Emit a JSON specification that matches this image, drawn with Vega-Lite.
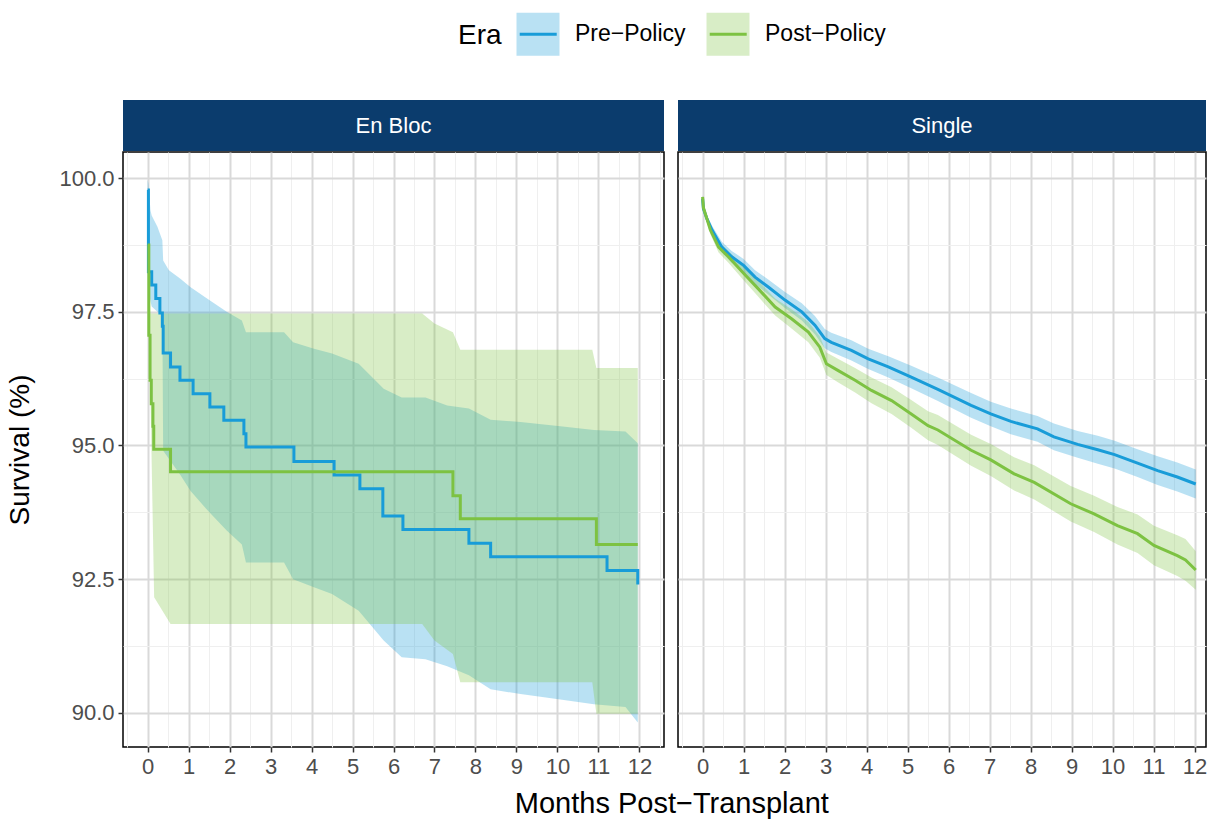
{
  "$schema": "https://vega.github.io/schema/vega-lite/v6.json",
  "usermeta": {"embedOptions": {"actions": false}},
  "padding": {"left": 6, "top": 11, "right": 0, "bottom": 3},
  "background": "white",
  "datasets": {
    "strips": [{"panel": "En Bloc"}, {"panel": "Single"}],
    "lines": [
      {"panel": "En Bloc", "era": "Pre−Policy", "t": 0, "s": 99.78},
      {"panel": "En Bloc", "era": "Pre−Policy", "t": 0.02, "s": 98.25},
      {"panel": "En Bloc", "era": "Pre−Policy", "t": 0.1, "s": 98.0},
      {"panel": "En Bloc", "era": "Pre−Policy", "t": 0.2, "s": 97.75},
      {"panel": "En Bloc", "era": "Pre−Policy", "t": 0.3, "s": 97.48},
      {"panel": "En Bloc", "era": "Pre−Policy", "t": 0.36, "s": 97.23},
      {"panel": "En Bloc", "era": "Pre−Policy", "t": 0.38, "s": 96.73},
      {"panel": "En Bloc", "era": "Pre−Policy", "t": 0.56, "s": 96.47},
      {"panel": "En Bloc", "era": "Pre−Policy", "t": 0.79, "s": 96.22},
      {"panel": "En Bloc", "era": "Pre−Policy", "t": 1.11, "s": 95.97},
      {"panel": "En Bloc", "era": "Pre−Policy", "t": 1.52, "s": 95.72},
      {"panel": "En Bloc", "era": "Pre−Policy", "t": 1.86, "s": 95.47},
      {"panel": "En Bloc", "era": "Pre−Policy", "t": 2.35, "s": 95.22},
      {"panel": "En Bloc", "era": "Pre−Policy", "t": 2.4, "s": 94.97},
      {"panel": "En Bloc", "era": "Pre−Policy", "t": 3.57, "s": 94.7},
      {"panel": "En Bloc", "era": "Pre−Policy", "t": 4.55, "s": 94.45},
      {"panel": "En Bloc", "era": "Pre−Policy", "t": 5.18, "s": 94.19},
      {"panel": "En Bloc", "era": "Pre−Policy", "t": 5.74, "s": 93.68},
      {"panel": "En Bloc", "era": "Pre−Policy", "t": 6.23, "s": 93.43},
      {"panel": "En Bloc", "era": "Pre−Policy", "t": 7.84, "s": 93.17},
      {"panel": "En Bloc", "era": "Pre−Policy", "t": 8.37, "s": 92.92},
      {"panel": "En Bloc", "era": "Pre−Policy", "t": 11.21, "s": 92.66},
      {"panel": "En Bloc", "era": "Pre−Policy", "t": 11.96, "s": 92.4},
      {"panel": "En Bloc", "era": "Post−Policy", "t": 0, "s": 98.75},
      {"panel": "En Bloc", "era": "Post−Policy", "t": 0.03, "s": 97.06},
      {"panel": "En Bloc", "era": "Post−Policy", "t": 0.06, "s": 96.22},
      {"panel": "En Bloc", "era": "Post−Policy", "t": 0.09, "s": 95.78},
      {"panel": "En Bloc", "era": "Post−Policy", "t": 0.13, "s": 95.36},
      {"panel": "En Bloc", "era": "Post−Policy", "t": 0.15, "s": 94.93},
      {"panel": "En Bloc", "era": "Post−Policy", "t": 0.56, "s": 94.51},
      {"panel": "En Bloc", "era": "Post−Policy", "t": 7.45, "s": 94.06},
      {"panel": "En Bloc", "era": "Post−Policy", "t": 7.63, "s": 93.63},
      {"panel": "En Bloc", "era": "Post−Policy", "t": 10.95, "s": 93.15},
      {"panel": "En Bloc", "era": "Post−Policy", "t": 11.96, "s": 93.15},
      {"panel": "Single", "era": "Pre−Policy", "t": 0, "s": 99.62},
      {"panel": "Single", "era": "Pre−Policy", "t": 0.02, "s": 99.43},
      {"panel": "Single", "era": "Pre−Policy", "t": 0.1, "s": 99.25},
      {"panel": "Single", "era": "Pre−Policy", "t": 0.23, "s": 99.03},
      {"panel": "Single", "era": "Pre−Policy", "t": 0.47, "s": 98.71},
      {"panel": "Single", "era": "Pre−Policy", "t": 0.71, "s": 98.53},
      {"panel": "Single", "era": "Pre−Policy", "t": 1.0, "s": 98.37},
      {"panel": "Single", "era": "Pre−Policy", "t": 1.28, "s": 98.15},
      {"panel": "Single", "era": "Pre−Policy", "t": 1.61, "s": 97.96},
      {"panel": "Single", "era": "Pre−Policy", "t": 2.01, "s": 97.72},
      {"panel": "Single", "era": "Pre−Policy", "t": 2.42, "s": 97.5},
      {"panel": "Single", "era": "Pre−Policy", "t": 2.74, "s": 97.25},
      {"panel": "Single", "era": "Pre−Policy", "t": 2.98, "s": 97.0},
      {"panel": "Single", "era": "Pre−Policy", "t": 3.14, "s": 96.93},
      {"panel": "Single", "era": "Pre−Policy", "t": 3.63, "s": 96.78},
      {"panel": "Single", "era": "Pre−Policy", "t": 4.04, "s": 96.62},
      {"panel": "Single", "era": "Pre−Policy", "t": 4.53, "s": 96.47},
      {"panel": "Single", "era": "Pre−Policy", "t": 5.09, "s": 96.28},
      {"panel": "Single", "era": "Pre−Policy", "t": 5.74, "s": 96.05},
      {"panel": "Single", "era": "Pre−Policy", "t": 6.55, "s": 95.75},
      {"panel": "Single", "era": "Pre−Policy", "t": 7.03, "s": 95.59},
      {"panel": "Single", "era": "Pre−Policy", "t": 7.52, "s": 95.45},
      {"panel": "Single", "era": "Pre−Policy", "t": 8.17, "s": 95.31},
      {"panel": "Single", "era": "Pre−Policy", "t": 8.57, "s": 95.16},
      {"panel": "Single", "era": "Pre−Policy", "t": 9.15, "s": 95.02},
      {"panel": "Single", "era": "Pre−Policy", "t": 9.64, "s": 94.92},
      {"panel": "Single", "era": "Pre−Policy", "t": 10.05, "s": 94.83},
      {"panel": "Single", "era": "Pre−Policy", "t": 10.61, "s": 94.67},
      {"panel": "Single", "era": "Pre−Policy", "t": 11.1, "s": 94.53},
      {"panel": "Single", "era": "Pre−Policy", "t": 11.58, "s": 94.41},
      {"panel": "Single", "era": "Pre−Policy", "t": 12.03, "s": 94.28},
      {"panel": "Single", "era": "Post−Policy", "t": 0, "s": 99.65},
      {"panel": "Single", "era": "Post−Policy", "t": 0.02, "s": 99.45},
      {"panel": "Single", "era": "Post−Policy", "t": 0.19, "s": 99.03},
      {"panel": "Single", "era": "Post−Policy", "t": 0.39, "s": 98.71},
      {"panel": "Single", "era": "Post−Policy", "t": 0.63, "s": 98.53},
      {"panel": "Single", "era": "Post−Policy", "t": 1.0, "s": 98.22},
      {"panel": "Single", "era": "Post−Policy", "t": 1.36, "s": 97.93},
      {"panel": "Single", "era": "Post−Policy", "t": 1.77, "s": 97.59},
      {"panel": "Single", "era": "Post−Policy", "t": 2.17, "s": 97.37},
      {"panel": "Single", "era": "Post−Policy", "t": 2.58, "s": 97.12},
      {"panel": "Single", "era": "Post−Policy", "t": 2.86, "s": 96.84},
      {"panel": "Single", "era": "Post−Policy", "t": 3.02, "s": 96.53},
      {"panel": "Single", "era": "Post−Policy", "t": 3.31, "s": 96.4},
      {"panel": "Single", "era": "Post−Policy", "t": 3.72, "s": 96.22},
      {"panel": "Single", "era": "Post−Policy", "t": 4.12, "s": 96.03},
      {"panel": "Single", "era": "Post−Policy", "t": 4.61, "s": 95.84},
      {"panel": "Single", "era": "Post−Policy", "t": 5.09, "s": 95.59},
      {"panel": "Single", "era": "Post−Policy", "t": 5.5, "s": 95.37},
      {"panel": "Single", "era": "Post−Policy", "t": 5.74, "s": 95.29},
      {"panel": "Single", "era": "Post−Policy", "t": 6.55, "s": 94.91},
      {"panel": "Single", "era": "Post−Policy", "t": 7.03, "s": 94.73},
      {"panel": "Single", "era": "Post−Policy", "t": 7.6, "s": 94.47},
      {"panel": "Single", "era": "Post−Policy", "t": 8.09, "s": 94.31},
      {"panel": "Single", "era": "Post−Policy", "t": 8.98, "s": 93.91},
      {"panel": "Single", "era": "Post−Policy", "t": 9.55, "s": 93.72},
      {"panel": "Single", "era": "Post−Policy", "t": 10.12, "s": 93.5},
      {"panel": "Single", "era": "Post−Policy", "t": 10.61, "s": 93.35},
      {"panel": "Single", "era": "Post−Policy", "t": 11.01, "s": 93.13},
      {"panel": "Single", "era": "Post−Policy", "t": 11.58, "s": 92.94},
      {"panel": "Single", "era": "Post−Policy", "t": 11.78, "s": 92.86},
      {"panel": "Single", "era": "Post−Policy", "t": 12.03, "s": 92.67}
    ],
    "bands": [
      {"panel": "En Bloc", "era": "Pre−Policy", "t": 0, "lo": 99.2, "hi": 99.97},
      {"panel": "En Bloc", "era": "Pre−Policy", "t": 0.02, "lo": 97.9, "hi": 99.9},
      {"panel": "En Bloc", "era": "Pre−Policy", "t": 0.07, "lo": 97.7, "hi": 99.4},
      {"panel": "En Bloc", "era": "Pre−Policy", "t": 0.1, "lo": 97.6, "hi": 99.3},
      {"panel": "En Bloc", "era": "Pre−Policy", "t": 0.24, "lo": 97.5, "hi": 99.09},
      {"panel": "En Bloc", "era": "Pre−Policy", "t": 0.36, "lo": 97.45, "hi": 98.84},
      {"panel": "En Bloc", "era": "Pre−Policy", "t": 0.38, "lo": 94.9, "hi": 98.46},
      {"panel": "En Bloc", "era": "Pre−Policy", "t": 0.52, "lo": 94.75, "hi": 98.28},
      {"panel": "En Bloc", "era": "Pre−Policy", "t": 0.8, "lo": 94.45, "hi": 98.12},
      {"panel": "En Bloc", "era": "Pre−Policy", "t": 1.05, "lo": 94.15, "hi": 97.96},
      {"panel": "En Bloc", "era": "Pre−Policy", "t": 1.45, "lo": 93.8, "hi": 97.75},
      {"panel": "En Bloc", "era": "Pre−Policy", "t": 1.93, "lo": 93.41, "hi": 97.5},
      {"panel": "En Bloc", "era": "Pre−Policy", "t": 2.3, "lo": 93.15, "hi": 97.34},
      {"panel": "En Bloc", "era": "Pre−Policy", "t": 2.4, "lo": 92.81, "hi": 97.12},
      {"panel": "En Bloc", "era": "Pre−Policy", "t": 3.33, "lo": 92.81, "hi": 97.12},
      {"panel": "En Bloc", "era": "Pre−Policy", "t": 3.55, "lo": 92.5, "hi": 96.93},
      {"panel": "En Bloc", "era": "Pre−Policy", "t": 4.06, "lo": 92.35, "hi": 96.81},
      {"panel": "En Bloc", "era": "Pre−Policy", "t": 4.5, "lo": 92.22, "hi": 96.72},
      {"panel": "En Bloc", "era": "Pre−Policy", "t": 5.15, "lo": 91.91, "hi": 96.53},
      {"panel": "En Bloc", "era": "Pre−Policy", "t": 5.76, "lo": 91.35, "hi": 96.06},
      {"panel": "En Bloc", "era": "Pre−Policy", "t": 6.2, "lo": 91.04, "hi": 95.9},
      {"panel": "En Bloc", "era": "Pre−Policy", "t": 6.78, "lo": 91.0, "hi": 95.9},
      {"panel": "En Bloc", "era": "Pre−Policy", "t": 7.31, "lo": 90.87, "hi": 95.75},
      {"panel": "En Bloc", "era": "Pre−Policy", "t": 7.84, "lo": 90.7, "hi": 95.69},
      {"panel": "En Bloc", "era": "Pre−Policy", "t": 8.37, "lo": 90.44, "hi": 95.48},
      {"panel": "En Bloc", "era": "Pre−Policy", "t": 9.1, "lo": 90.35, "hi": 95.44},
      {"panel": "En Bloc", "era": "Pre−Policy", "t": 10.07, "lo": 90.25, "hi": 95.36},
      {"panel": "En Bloc", "era": "Pre−Policy", "t": 10.89, "lo": 90.16, "hi": 95.29},
      {"panel": "En Bloc", "era": "Pre−Policy", "t": 11.66, "lo": 90.11, "hi": 95.26},
      {"panel": "En Bloc", "era": "Pre−Policy", "t": 11.96, "lo": 89.82, "hi": 95.04},
      {"panel": "En Bloc", "era": "Post−Policy", "t": 0.03, "lo": 97.4, "hi": 97.47},
      {"panel": "En Bloc", "era": "Post−Policy", "t": 0.04, "lo": 97.4, "hi": 97.47},
      {"panel": "En Bloc", "era": "Post−Policy", "t": 0.08, "lo": 95.5, "hi": 97.47},
      {"panel": "En Bloc", "era": "Post−Policy", "t": 0.16, "lo": 92.16, "hi": 97.47},
      {"panel": "En Bloc", "era": "Post−Policy", "t": 0.56, "lo": 91.66, "hi": 97.47},
      {"panel": "En Bloc", "era": "Post−Policy", "t": 6.7, "lo": 91.66, "hi": 97.47},
      {"panel": "En Bloc", "era": "Post−Policy", "t": 7.0, "lo": 91.35, "hi": 97.28},
      {"panel": "En Bloc", "era": "Post−Policy", "t": 7.45, "lo": 91.1, "hi": 97.12},
      {"panel": "En Bloc", "era": "Post−Policy", "t": 7.63, "lo": 90.57, "hi": 96.79},
      {"panel": "En Bloc", "era": "Post−Policy", "t": 10.85, "lo": 90.57, "hi": 96.79},
      {"panel": "En Bloc", "era": "Post−Policy", "t": 10.95, "lo": 89.98, "hi": 96.45},
      {"panel": "En Bloc", "era": "Post−Policy", "t": 11.96, "lo": 89.98, "hi": 96.45},
      {"panel": "Single", "era": "Pre−Policy", "t": 0, "lo": 99.57, "hi": 99.67},
      {"panel": "Single", "era": "Pre−Policy", "t": 0.02, "lo": 99.37, "hi": 99.49},
      {"panel": "Single", "era": "Pre−Policy", "t": 0.1, "lo": 99.18, "hi": 99.32},
      {"panel": "Single", "era": "Pre−Policy", "t": 0.23, "lo": 98.95, "hi": 99.11},
      {"panel": "Single", "era": "Pre−Policy", "t": 0.47, "lo": 98.61, "hi": 98.81},
      {"panel": "Single", "era": "Pre−Policy", "t": 0.71, "lo": 98.42, "hi": 98.64},
      {"panel": "Single", "era": "Pre−Policy", "t": 1.0, "lo": 98.25, "hi": 98.49},
      {"panel": "Single", "era": "Pre−Policy", "t": 1.28, "lo": 98.02, "hi": 98.28},
      {"panel": "Single", "era": "Pre−Policy", "t": 1.61, "lo": 97.82, "hi": 98.1},
      {"panel": "Single", "era": "Pre−Policy", "t": 2.01, "lo": 97.57, "hi": 97.87},
      {"panel": "Single", "era": "Pre−Policy", "t": 2.42, "lo": 97.34, "hi": 97.66},
      {"panel": "Single", "era": "Pre−Policy", "t": 2.74, "lo": 97.08, "hi": 97.42},
      {"panel": "Single", "era": "Pre−Policy", "t": 2.98, "lo": 96.82, "hi": 97.18},
      {"panel": "Single", "era": "Pre−Policy", "t": 3.14, "lo": 96.75, "hi": 97.11},
      {"panel": "Single", "era": "Pre−Policy", "t": 3.63, "lo": 96.59, "hi": 96.97},
      {"panel": "Single", "era": "Pre−Policy", "t": 4.04, "lo": 96.43, "hi": 96.81},
      {"panel": "Single", "era": "Pre−Policy", "t": 4.53, "lo": 96.27, "hi": 96.67},
      {"panel": "Single", "era": "Pre−Policy", "t": 5.09, "lo": 96.07, "hi": 96.49},
      {"panel": "Single", "era": "Pre−Policy", "t": 5.74, "lo": 95.83, "hi": 96.27},
      {"panel": "Single", "era": "Pre−Policy", "t": 6.55, "lo": 95.52, "hi": 95.98},
      {"panel": "Single", "era": "Pre−Policy", "t": 7.03, "lo": 95.36, "hi": 95.82},
      {"panel": "Single", "era": "Pre−Policy", "t": 7.52, "lo": 95.21, "hi": 95.69},
      {"panel": "Single", "era": "Pre−Policy", "t": 8.17, "lo": 95.07, "hi": 95.55},
      {"panel": "Single", "era": "Pre−Policy", "t": 8.57, "lo": 94.91, "hi": 95.41},
      {"panel": "Single", "era": "Pre−Policy", "t": 9.15, "lo": 94.77, "hi": 95.27},
      {"panel": "Single", "era": "Pre−Policy", "t": 9.64, "lo": 94.66, "hi": 95.18},
      {"panel": "Single", "era": "Pre−Policy", "t": 10.05, "lo": 94.57, "hi": 95.09},
      {"panel": "Single", "era": "Pre−Policy", "t": 10.61, "lo": 94.41, "hi": 94.93},
      {"panel": "Single", "era": "Pre−Policy", "t": 11.1, "lo": 94.26, "hi": 94.8},
      {"panel": "Single", "era": "Pre−Policy", "t": 11.58, "lo": 94.14, "hi": 94.68},
      {"panel": "Single", "era": "Pre−Policy", "t": 12.03, "lo": 94.01, "hi": 94.55},
      {"panel": "Single", "era": "Post−Policy", "t": 0, "lo": 99.6, "hi": 99.7},
      {"panel": "Single", "era": "Post−Policy", "t": 0.02, "lo": 99.39, "hi": 99.51},
      {"panel": "Single", "era": "Post−Policy", "t": 0.19, "lo": 98.95, "hi": 99.11},
      {"panel": "Single", "era": "Post−Policy", "t": 0.39, "lo": 98.61, "hi": 98.81},
      {"panel": "Single", "era": "Post−Policy", "t": 0.63, "lo": 98.42, "hi": 98.64},
      {"panel": "Single", "era": "Post−Policy", "t": 1.0, "lo": 98.09, "hi": 98.35},
      {"panel": "Single", "era": "Post−Policy", "t": 1.36, "lo": 97.78, "hi": 98.08},
      {"panel": "Single", "era": "Post−Policy", "t": 1.77, "lo": 97.43, "hi": 97.75},
      {"panel": "Single", "era": "Post−Policy", "t": 2.17, "lo": 97.19, "hi": 97.55},
      {"panel": "Single", "era": "Post−Policy", "t": 2.58, "lo": 96.93, "hi": 97.31},
      {"panel": "Single", "era": "Post−Policy", "t": 2.86, "lo": 96.64, "hi": 97.04},
      {"panel": "Single", "era": "Post−Policy", "t": 3.02, "lo": 96.32, "hi": 96.74},
      {"panel": "Single", "era": "Post−Policy", "t": 3.31, "lo": 96.18, "hi": 96.62},
      {"panel": "Single", "era": "Post−Policy", "t": 3.72, "lo": 95.99, "hi": 96.45},
      {"panel": "Single", "era": "Post−Policy", "t": 4.12, "lo": 95.79, "hi": 96.27},
      {"panel": "Single", "era": "Post−Policy", "t": 4.61, "lo": 95.59, "hi": 96.09},
      {"panel": "Single", "era": "Post−Policy", "t": 5.09, "lo": 95.33, "hi": 95.85},
      {"panel": "Single", "era": "Post−Policy", "t": 5.5, "lo": 95.1, "hi": 95.64},
      {"panel": "Single", "era": "Post−Policy", "t": 5.74, "lo": 95.01, "hi": 95.57},
      {"panel": "Single", "era": "Post−Policy", "t": 6.55, "lo": 94.62, "hi": 95.2},
      {"panel": "Single", "era": "Post−Policy", "t": 7.03, "lo": 94.43, "hi": 95.03},
      {"panel": "Single", "era": "Post−Policy", "t": 7.6, "lo": 94.16, "hi": 94.78},
      {"panel": "Single", "era": "Post−Policy", "t": 8.09, "lo": 93.99, "hi": 94.63},
      {"panel": "Single", "era": "Post−Policy", "t": 8.98, "lo": 93.58, "hi": 94.24},
      {"panel": "Single", "era": "Post−Policy", "t": 9.55, "lo": 93.38, "hi": 94.06},
      {"panel": "Single", "era": "Post−Policy", "t": 10.12, "lo": 93.15, "hi": 93.85},
      {"panel": "Single", "era": "Post−Policy", "t": 10.61, "lo": 92.99, "hi": 93.71},
      {"panel": "Single", "era": "Post−Policy", "t": 11.01, "lo": 92.76, "hi": 93.5},
      {"panel": "Single", "era": "Post−Policy", "t": 11.58, "lo": 92.56, "hi": 93.32},
      {"panel": "Single", "era": "Post−Policy", "t": 11.78, "lo": 92.47, "hi": 93.25},
      {"panel": "Single", "era": "Post−Policy", "t": 12.03, "lo": 92.3, "hi": 93.02}
    ]
  },
  "title": {"text": "Months Post−Transplant", "orient": "bottom", "anchor": "middle", "fontSize": 29, "fontWeight": "normal", "font": "Liberation Sans", "color": "#000000", "offset": 12, "dx": 65},
  "spacing": 12,
  "resolve": {"scale": {"color": "shared"}},
  "hconcat": [
    {
      "spacing": 0,
      "vconcat": [
        {
          "data": {"name": "strips"},
          "transform": [{"filter": "datum.panel === 'En Bloc'"}],
          "width": 541, "height": 51,
          "view": {"stroke": null},
          "layer": [
            {"mark": {"type": "rect", "fill": "#0B3C6D"}, "encoding": {}},
            {"mark": {"type": "text", "color": "white", "fontSize": 22, "font": "Liberation Sans", "baseline": "middle"}, "encoding": {"text": {"field": "panel", "type": "nominal"}}}
          ]
        },
        {
          "width": 541, "height": 595,
          "layer": [
            {
              "data": {"name": "bands"},
              "transform": [{"filter": "datum.panel === 'En Bloc'"}],
              "mark": {"type": "area", "fillOpacity": 0.3, "interpolate": "linear"},
              "encoding": {
                "x": {"field": "t", "type": "quantitative", "scale": {"domain": [-0.6, 12.6], "nice": false, "zero": false},
                      "axis": {"orient": "bottom", "values": [-0.5, 0.5, 1.5, 2.5, 3.5, 4.5, 5.5, 6.5, 7.5, 8.5, 9.5, 10.5, 11.5, 12.5], "grid": true, "gridColor": "#EFEFEF", "gridWidth": 1, "labels": false, "ticks": false, "domain": false, "title": null}},
                "y": {"field": "lo", "type": "quantitative", "scale": {"domain": [89.36, 100.49], "nice": false, "zero": false},
                      "axis": {"orient": "left", "values": [91.25, 93.75, 96.25, 98.75], "grid": true, "gridColor": "#EFEFEF", "gridWidth": 1, "labels": false, "ticks": false, "domain": false, "title": null}},
                "y2": {"field": "hi"},
                "color": {"field": "era", "type": "nominal", "scale": {"domain": ["Pre−Policy", "Post−Policy"], "range": ["#189CD8", "#7DC242"]},
                          "legend": {"title": "Era", "orient": "none", "legendX": 335, "legendY": -89, "direction": "horizontal", "titleOrient": "left",
                                     "encode": {"symbols": {"update": {"fill": {"scale": "color", "field": "value"}, "fillOpacity": {"value": 0.3}, "stroke": {"scale": "color", "field": "value"}, "strokeOpacity": {"value": 1}, "strokeWidth": {"value": 3}, "strokeDash": {"value": [37, 400]}, "shape": {"value": "M-0.85,0H0.85L1,0V-1H-1V1H1V0"}, "size": {"value": 1849}, "opacity": {"value": 1}}}}}}
              }
            },
            {
              "data": {"name": "lines"},
              "transform": [{"filter": "datum.panel === 'En Bloc'"}],
              "mark": {"type": "line", "interpolate": "step-after", "strokeWidth": 3},
              "encoding": {
                "x": {"field": "t", "type": "quantitative", "scale": {"domain": [-0.6, 12.6], "nice": false, "zero": false},
                      "axis": {"orient": "bottom", "values": [0, 1, 2, 3, 4, 5, 6, 7, 8, 9, 10, 11, 12], "grid": true, "title": null}},
                "y": {"field": "s", "type": "quantitative", "scale": {"domain": [89.36, 100.49], "nice": false, "zero": false},
                      "axis": {"orient": "left", "values": [90, 92.5, 95, 97.5, 100], "format": ".1f", "grid": true, "title": "Survival (%)", "titlePadding": 24}},
                "color": {"field": "era", "type": "nominal", "scale": {"domain": ["Pre−Policy", "Post−Policy"], "range": ["#189CD8", "#7DC242"]},
                          "legend": {"title": "Era", "orient": "none", "legendX": 335, "legendY": -89, "direction": "horizontal", "titleOrient": "left",
                                     "encode": {"symbols": {"update": {"fill": {"scale": "color", "field": "value"}, "fillOpacity": {"value": 0.3}, "stroke": {"scale": "color", "field": "value"}, "strokeOpacity": {"value": 1}, "strokeWidth": {"value": 3}, "strokeDash": {"value": [37, 400]}, "shape": {"value": "M-0.85,0H0.85L1,0V-1H-1V1H1V0"}, "size": {"value": 1849}, "opacity": {"value": 1}}}}}}
              }
            }
          ],
          "resolve": {"axis": {"x": "independent", "y": "independent"}}
        }
      ]
    },
    {
      "spacing": 0,
      "vconcat": [
        {
          "data": {"name": "strips"},
          "transform": [{"filter": "datum.panel === 'Single'"}],
          "width": 528, "height": 51,
          "view": {"stroke": null},
          "layer": [
            {"mark": {"type": "rect", "fill": "#0B3C6D"}, "encoding": {}},
            {"mark": {"type": "text", "color": "white", "fontSize": 22, "font": "Liberation Sans", "baseline": "middle"}, "encoding": {"text": {"field": "panel", "type": "nominal"}}}
          ]
        },
        {
          "width": 528, "height": 595,
          "layer": [
            {
              "data": {"name": "bands"},
              "transform": [{"filter": "datum.panel === 'Single'"}],
              "mark": {"type": "area", "fillOpacity": 0.3, "interpolate": "linear"},
              "encoding": {
                "x": {"field": "t", "type": "quantitative", "scale": {"domain": [-0.6, 12.28], "nice": false, "zero": false},
                      "axis": {"orient": "bottom", "values": [-0.5, 0.5, 1.5, 2.5, 3.5, 4.5, 5.5, 6.5, 7.5, 8.5, 9.5, 10.5, 11.5], "grid": true, "gridColor": "#EFEFEF", "gridWidth": 1, "labels": false, "ticks": false, "domain": false, "title": null}},
                "y": {"field": "lo", "type": "quantitative", "scale": {"domain": [89.36, 100.49], "nice": false, "zero": false},
                      "axis": {"orient": "left", "values": [91.25, 93.75, 96.25, 98.75], "grid": true, "gridColor": "#EFEFEF", "gridWidth": 1, "labels": false, "ticks": false, "domain": false, "title": null}},
                "y2": {"field": "hi"},
                "color": {"field": "era", "type": "nominal", "scale": {"domain": ["Pre−Policy", "Post−Policy"], "range": ["#189CD8", "#7DC242"]},
                          "legend": {"title": "Era", "orient": "none", "legendX": 335, "legendY": -89, "direction": "horizontal", "titleOrient": "left",
                                     "encode": {"symbols": {"update": {"fill": {"scale": "color", "field": "value"}, "fillOpacity": {"value": 0.3}, "stroke": {"scale": "color", "field": "value"}, "strokeOpacity": {"value": 1}, "strokeWidth": {"value": 3}, "strokeDash": {"value": [37, 400]}, "shape": {"value": "M-0.85,0H0.85L1,0V-1H-1V1H1V0"}, "size": {"value": 1849}, "opacity": {"value": 1}}}}}}
              }
            },
            {
              "data": {"name": "lines"},
              "transform": [{"filter": "datum.panel === 'Single'"}],
              "mark": {"type": "line", "interpolate": "linear", "strokeWidth": 3},
              "encoding": {
                "x": {"field": "t", "type": "quantitative", "scale": {"domain": [-0.6, 12.28], "nice": false, "zero": false},
                      "axis": {"orient": "bottom", "values": [0, 1, 2, 3, 4, 5, 6, 7, 8, 9, 10, 11, 12], "grid": true, "title": null}},
                "y": {"field": "s", "type": "quantitative", "scale": {"domain": [89.36, 100.49], "nice": false, "zero": false},
                      "axis": {"orient": "left", "values": [90, 92.5, 95, 97.5, 100], "grid": true, "labels": false, "ticks": false, "title": null}},
                "color": {"field": "era", "type": "nominal", "scale": {"domain": ["Pre−Policy", "Post−Policy"], "range": ["#189CD8", "#7DC242"]},
                          "legend": {"title": "Era", "orient": "none", "legendX": 335, "legendY": -89, "direction": "horizontal", "titleOrient": "left",
                                     "encode": {"symbols": {"update": {"fill": {"scale": "color", "field": "value"}, "fillOpacity": {"value": 0.3}, "stroke": {"scale": "color", "field": "value"}, "strokeOpacity": {"value": 1}, "strokeWidth": {"value": 3}, "strokeDash": {"value": [37, 400]}, "shape": {"value": "M-0.85,0H0.85L1,0V-1H-1V1H1V0"}, "size": {"value": 1849}, "opacity": {"value": 1}}}}}}
              }
            }
          ],
          "resolve": {"axis": {"x": "independent", "y": "independent"}}
        }
      ]
    }
  ],
  "config": {
    "font": "Liberation Sans",
    "view": {"stroke": "#000000", "strokeWidth": 1.5},
    "axis": {"labelFont": "Liberation Sans", "labelFontSize": 22, "labelColor": "#4D4D4D", "tickColor": "#333333", "tickSize": 5, "tickWidth": 1.5, "domain": false, "gridColor": "#D9D9D9", "gridWidth": 2, "titleFont": "Liberation Sans", "titleFontSize": 28, "titleFontWeight": "normal", "titleColor": "#000000", "labelPadding": 4, "labelFlush": false, "labelOverlap": false},
    "legend": {"titleFont": "Liberation Sans", "titleFontSize": 28, "titleFontWeight": "normal", "titleColor": "#000000", "labelFont": "Liberation Sans", "labelFontSize": 23, "labelColor": "#000000", "symbolSize": 1849, "labelOffset": 14, "columnPadding": 14, "titlePadding": 13, "padding": 0, "symbolStrokeWidth": 3}
  }
}
